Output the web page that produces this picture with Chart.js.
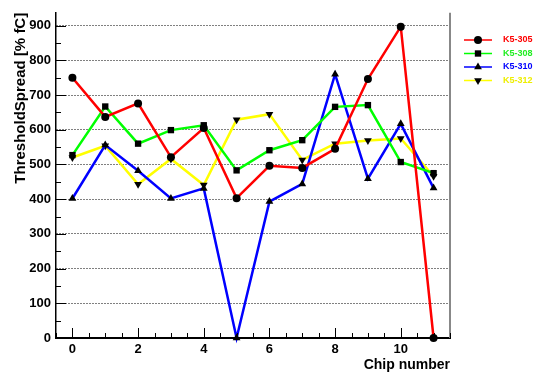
<!DOCTYPE html>
<html>
<head>
<meta charset="utf-8">
<script src="https://cdn.jsdelivr.net/npm/chart.js@4/dist/chart.umd.min.js"></script>
<style>
  html, body { margin: 0; padding: 0; background: #fff; }
  #wrap { width: 534px; height: 374px; }
</style>
</head>
<body>
<div id="wrap"><canvas id="c" width="534" height="374"></canvas></div>
<script>
// ======================
// Datos
// ======================
const chips = [0, 1, 2, 3, 4, 5, 6, 7, 8, 9, 10, 11];
const k5_305 = [750, 637, 676, 521, 605, 403, 496, 490, 545, 746, 897, 0];
const k5_308 = [527, 667, 560, 599, 613, 483, 541, 570, 666, 671, 507, 475];
const k5_310 = [402, 556, 482, 402, 431, 0, 393, 444, 760, 459, 617, 432];
const k5_312 = [520, 554, 443, 516, 441, 629, 645, 513, 560, 569, 575, 466];
const xTicks = [0, 2, 4, 6, 8, 10];
const yTicks = [0, 100, 200, 300, 400, 500, 600, 700, 800, 900];

const series = [
  { label: "K5-305", values: k5_305, color: "#ff0000", text: "#ff0000", marker: "circle", rot: 0, r: 4 },
  { label: "K5-308", values: k5_308, color: "#00ff00", text: "#22ee22", marker: "rect", rot: 0, r: 4.5 },
  { label: "K5-310", values: k5_310, color: "#0000ff", text: "#0000ff", marker: "triangle", rot: 0, r: 4.5 },
  { label: "K5-312", values: k5_312, color: "#ffff00", text: "#eeee00", marker: "triangle", rot: 180, r: 4.5 }
];

const FONT = "'Liberation Sans', Arial, Helvetica, sans-serif";

// ======================
// Ticks hacia adentro + borde derecho + leyenda
// ======================
const rootStyle = {
  id: "rootStyle",
  afterDraw(chart) {
    const ctx = chart.ctx;
    const a = chart.chartArea;
    const xs = chart.scales.x, ys = chart.scales.y;
    ctx.save();
    // borde derecho gris
    ctx.strokeStyle = "#888";
    ctx.lineWidth = 2;
    ctx.beginPath();
    ctx.moveTo(a.right, a.top);
    ctx.lineTo(a.right, a.bottom);
    ctx.stroke();

    ctx.strokeStyle = "#000";
    ctx.lineWidth = 1;
    ctx.setLineDash([]);
    ctx.beginPath();
    // ticks eje x (cada 0.5)
    for (let v = -0.5; v <= 11.5; v += 0.5) {
      const px = Math.round(xs.getPixelForValue(v)) + 0.5;
      const len = (v % 2 === 0) ? 10 : 5;
      ctx.moveTo(px, a.bottom);
      ctx.lineTo(px, a.bottom - len);
    }
    // ticks eje y (cada 50)
    for (let v = 0; v <= 900; v += 50) {
      const py = Math.round(ys.getPixelForValue(v)) + 0.5;
      const len = (v % 100 === 0) ? 10 : 5;
      ctx.moveTo(a.left, py);
      ctx.lineTo(a.left + len, py);
    }
    ctx.stroke();

    // leyenda
    const lx = 464, lw = 28;
    series.forEach((s, i) => {
      const y = 40 + i * 13.5;
      ctx.strokeStyle = s.color;
      ctx.lineWidth = 1.5;
      ctx.beginPath();
      ctx.moveTo(lx, y);
      ctx.lineTo(lx + lw, y);
      ctx.stroke();
      ctx.fillStyle = "#000";
      ctx.strokeStyle = "#000";
      ctx.lineWidth = 0;
      Chart.helpers.drawPoint(ctx, {
        pointStyle: s.marker, radius: s.r, rotation: s.rot, borderWidth: 0
      }, lx + lw / 2, y);
      ctx.fillStyle = s.text;
      ctx.font = "bold 9px " + FONT;
      ctx.textBaseline = "middle";
      ctx.textAlign = "left";
      ctx.fillText(s.label, 503, y);
    });
    ctx.restore();
  }
};

const datasets = series.map(s => ({
  label: s.label,
  data: chips.map((c, i) => ({ x: c, y: s.values[i] })),
  borderColor: s.color,
  borderWidth: 2.5,
  pointStyle: s.marker,
  pointRotation: s.rot,
  pointRadius: s.r,
  pointBackgroundColor: "#000",
  pointBorderColor: "#000",
  pointBorderWidth: 0,
  tension: 0,
  clip: false
}));

new Chart(document.getElementById("c"), {
  type: "line",
  data: { datasets },
  options: {
    responsive: false,
    animation: false,
    layout: { padding: { left: 0, right: 84, top: 7, bottom: 0 } },
    plugins: { legend: { display: false }, tooltip: { enabled: false } },
    scales: {
      x: {
        type: "linear",
        min: -0.5,
        max: 11.5,
        afterBuildTicks: (sc) => { sc.ticks = xTicks.map(v => ({ value: v })); },
        afterFit: (sc) => { sc.height = 36; },
        grid: { display: false, drawTicks: false },
        border: { color: "#000", width: 2 },
        ticks: { color: "#000", font: { family: FONT, size: 13, weight: "bold" }, padding: 4, maxRotation: 0 },
        title: {
          display: true, text: "Chip number", align: "end", color: "#000",
          font: { family: FONT, size: 14, weight: "bold" }, padding: { top: -3, bottom: 0 }
        }
      },
      y: {
        min: 0,
        max: 937,
        afterBuildTicks: (sc) => { sc.ticks = yTicks.map(v => ({ value: v })); },
        afterFit: (sc) => { sc.width = 56; },
        grid: {
          color: (c) => c.tick && c.tick.value === 0 ? "rgba(0,0,0,0)" : "#000",
          lineWidth: 1, drawTicks: false
        },
        border: { color: "#000", width: 1.5, dash: [1, 2] },
        ticks: { color: "#000", font: { family: FONT, size: 13, weight: "bold" }, padding: 5 },
        title: {
          display: true, text: "ThresholdSpread [% fC]", align: "end", color: "#000",
          font: { family: FONT, size: 15, weight: "bold" }, padding: { top: 12, bottom: 0 }
        }
      }
    }
  },
  plugins: [rootStyle]
});
</script>
</body>
</html>
